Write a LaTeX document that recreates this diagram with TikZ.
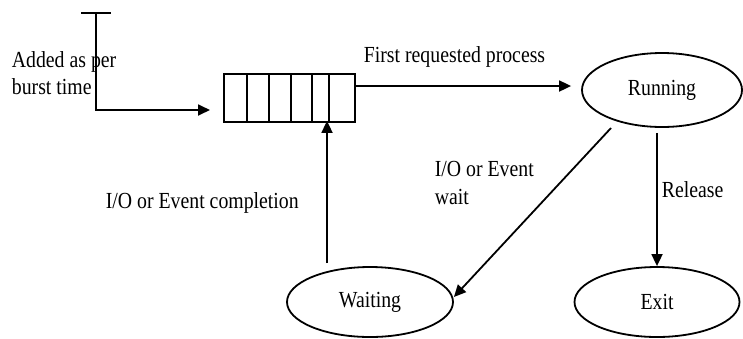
\documentclass[tikz,border=0pt]{standalone}
\usepackage{fontspec}
\setmainfont[FakeStretch=0.86]{Liberation Serif}
\usetikzlibrary{shapes.geometric,arrows.meta}
\begin{document}
\begin{tikzpicture}[x=1pt,y=-1pt,line width=1.8pt,
  arr/.style={-{Triangle[length=12pt,width=11pt]}},
  lbl/.style={font=\fontsize{23}{27}\selectfont,inner sep=0pt,anchor=base west},
  state/.style={ellipse,draw,inner sep=0pt,font=\fontsize{23}{27}\selectfont},
  queuebox/.style={draw,rectangle,inner sep=0pt,minimum width=131pt,minimum height=48pt}]
\useasboundingbox (0,0) rectangle (743,338);
% states
\node[state,minimum width=160pt,minimum height=74pt] (Running) at (662,90) {Running\hspace{20pt}};
\node[state,minimum width=166pt,minimum height=70pt] (Waiting) at (370,302) {Waiting\hspace{26pt}};
\node[state,minimum width=165pt,minimum height=70pt] (Exit) at (657,302) {Exit\hspace{58pt}};
% queue
\node[queuebox] (queue) at (289.5,98) {};
\foreach \x in {247,269,291,312,329} \draw (\x,74) -- (\x,122);
% incoming
\coordinate (top) at (96,13);
\coordinate (tickL) at (81,13);
\coordinate (tickR) at (111,13);
\coordinate (qin) at (210,110);
\draw (tickL) -- (tickR);
\draw[arr] (top) |- (qin);
% queue -> running
\draw[arr,shorten >=10pt] ([yshift=12pt]queue.east) -- ([yshift=12pt]queue.east -| Running.west);
% running -> waiting
\draw[arr] ([shift={(-51pt,-38pt)}]Running.center) -- ([yshift=5pt]Waiting.east);
% running -> exit
\draw[arr,shorten <=5pt] (Exit.north |- Running.south) -- (Exit.north);
% waiting -> queue
\coordinate (upx) at (327,0);
\draw[arr,shorten <=3pt,shorten >=-2pt] (upx |- Waiting.north) -- (upx |- queue.south);
% labels
\node[lbl] (l1) at (11,67) {Added as per};
\node[lbl] (l2) at (11,94) {burst time};
\node[lbl] (l3) at (363,62) {First requested process};
\node[lbl] (l4) at (105,208) {I/O or Event completion};
\node[lbl] (l5) at (434,176) {I/O or Event};
\node[lbl] (l6) at (434,204) {wait};
\node[lbl] (l7) at (661,197) {Release};
\end{tikzpicture}
\end{document}
